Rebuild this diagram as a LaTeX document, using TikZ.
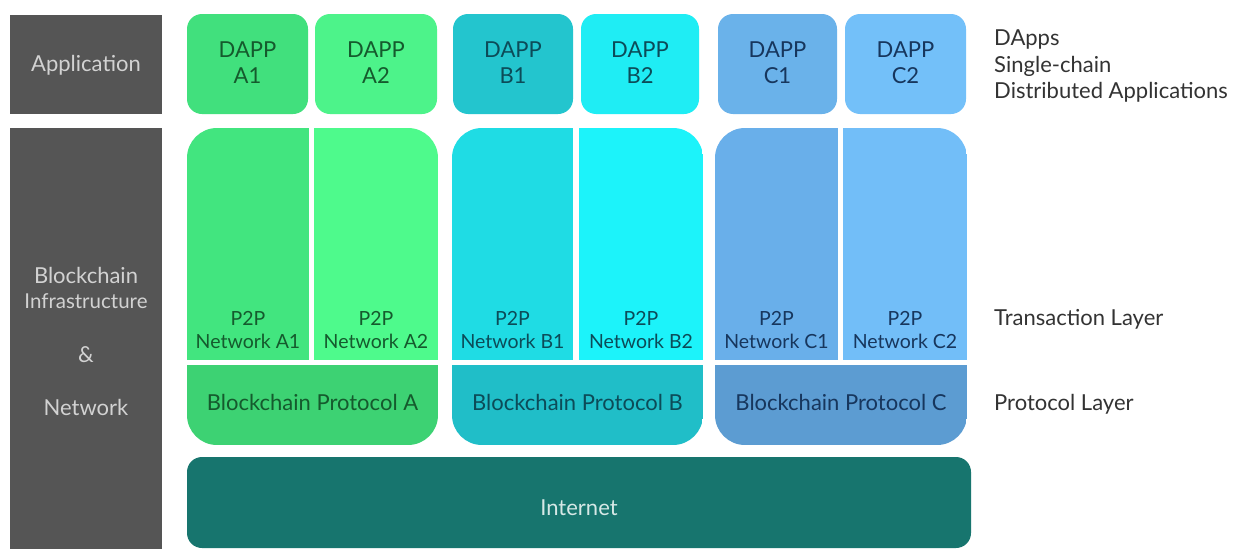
\documentclass[tikz,border=0pt]{standalone}
\usepackage{fontspec}
\setmainfont{Lato}
\definecolor{gray5}{HTML}{555555}
\definecolor{graytxt}{HTML}{D2D2D2}
\definecolor{dA1}{HTML}{41E07D}
\definecolor{dA2}{HTML}{4DF38A}
\definecolor{nA1}{HTML}{42E57F}
\definecolor{nA2}{HTML}{4EFA8C}
\definecolor{pA}{HTML}{3DD273}
\definecolor{tA}{HTML}{155A2D}
\definecolor{dB1}{HTML}{23C5CE}
\definecolor{dB2}{HTML}{1FEDF4}
\definecolor{nB1}{HTML}{1FDCE4}
\definecolor{nB2}{HTML}{1CF3FA}
\definecolor{pB}{HTML}{20BEC8}
\definecolor{tB}{HTML}{0C4B58}
\definecolor{dC1}{HTML}{6AB2EA}
\definecolor{dC2}{HTML}{73C0F9}
\definecolor{nC1}{HTML}{69AFEA}
\definecolor{nC2}{HTML}{72BEF8}
\definecolor{pC}{HTML}{5C9CD2}
\definecolor{tC}{HTML}{17365D}
\definecolor{inet}{HTML}{17756E}
\definecolor{inettxt}{HTML}{D6E8E6}
\definecolor{lbl}{HTML}{333333}
\tikzset{
  t/.style={anchor=base, inner sep=0pt},
  big/.style={font=\fontsize{22}{26}\selectfont},
  mid/.style={font=\fontsize{19.5}{23}\selectfont},
  dapp/.style={rounded corners=15pt},
}
\begin{document}
\begin{tikzpicture}[x=1pt,y=-1pt]
\useasboundingbox (0,0) rectangle (1247,549);
\fill[white] (0,0) rectangle (1247,549);
% left gray boxes
\fill[gray5] (10,15) rectangle (162,114);
\fill[gray5] (10,128) rectangle (162,549);
\node[t,big,text=graytxt] (app) at (86,71) {Application};
\node[t,big,text=graytxt] (bc) at (86,283) {Blockchain};
\node[t,font=\fontsize{20.5}{24}\selectfont,text=graytxt] (infra) at (86,308) {Infrastructure};
\node[t,big,text=graytxt] (amp) at (86,362) {\&};
\node[t,big,text=graytxt] (net) at (86,415) {Network};
% DAPP boxes
\fill[dA1,dapp] (187,14) rectangle (308,114);
\fill[dA2,dapp] (315,14) rectangle (437,114);
\fill[dB1,dapp] (453,14) rectangle (573,114);
\fill[dB2,dapp] (581,14) rectangle (699,114);
\fill[dC1,dapp] (718,14) rectangle (837,114);
\fill[dC2,dapp] (845,14) rectangle (966,114);
\foreach \x/\l/\c [count=\i] in {247.5/A1/tA,376/A2/tA,513/B1/tB,640/B2/tB,777.5/C1/tC,905.5/C2/tC}{
  \node[t,big,text=\c] (dapp\i) at (\x,57) {DAPP};
  \node[t,big,text=\c] (dappl\i) at (\x,83) {\l};
}
% groups
\begin{scope}
\clip[rounded corners=30pt] (187,128) rectangle (438,445);
\fill[nA1] (187,128) rectangle (311,362);
\fill[nA2] (311,128) rectangle (438,362);
\fill[pA] (187,362) rectangle (438,445);
\fill[white] (308.5,128) rectangle (313.5,362);
\fill[white] (187,360) rectangle (438,365);
\end{scope}
\begin{scope}
\clip[rounded corners=30pt] (452,128) rectangle (703,445);
\fill[nB1] (452,128) rectangle (576,362);
\fill[nB2] (576,128) rectangle (703,362);
\fill[pB] (452,362) rectangle (703,445);
\fill[white] (573,128) rectangle (579,362);
\fill[white] (452,360) rectangle (703,365);
\end{scope}
\begin{scope}
\clip[rounded corners=30pt] (715,128) rectangle (967,445);
\fill[nC1] (715,128) rectangle (840,362);
\fill[nC2] (840,128) rectangle (967,362);
\fill[pC] (715,362) rectangle (967,445);
\fill[white] (838,128) rectangle (843,362);
\fill[white] (715,360) rectangle (967,365);
\end{scope}
\foreach \x/\l/\c [count=\i] in {248/A1/tA,376/A2/tA,512.5/B1/tB,641/B2/tB,776.5/C1/tC,905/C2/tC}{
  \node[t,mid,text=\c] (p2p\i) at (\x,325) {P2P};
  \node[t,mid,text=\c] (netw\i) at (\x,348) {Network \l};
}
\node[t,big,text=tA] (protA) at (312.5,410) {Blockchain Protocol A};
\node[t,big,text=tB] (protB) at (577.5,410) {Blockchain Protocol B};
\node[t,big,text=tC] (protC) at (841,410) {Blockchain Protocol C};
% internet
\fill[inet,rounded corners=15pt] (187,457) rectangle (971,548);
\node[t,big,text=inettxt] (inettext) at (579,515) {Internet};
% right labels
\node[t,big,text=lbl,anchor=base west] (r1) at (994,45) {DApps};
\node[t,big,text=lbl,anchor=base west] (r2) at (994,72) {Single-chain};
\node[t,big,text=lbl,anchor=base west] (r3) at (994,98) {Distributed Applications};
\node[t,big,text=lbl,anchor=base west] (r4) at (994,325) {Transaction Layer};
\node[t,big,text=lbl,anchor=base west] (r5) at (994,410) {Protocol Layer};
\end{tikzpicture}
\end{document}
